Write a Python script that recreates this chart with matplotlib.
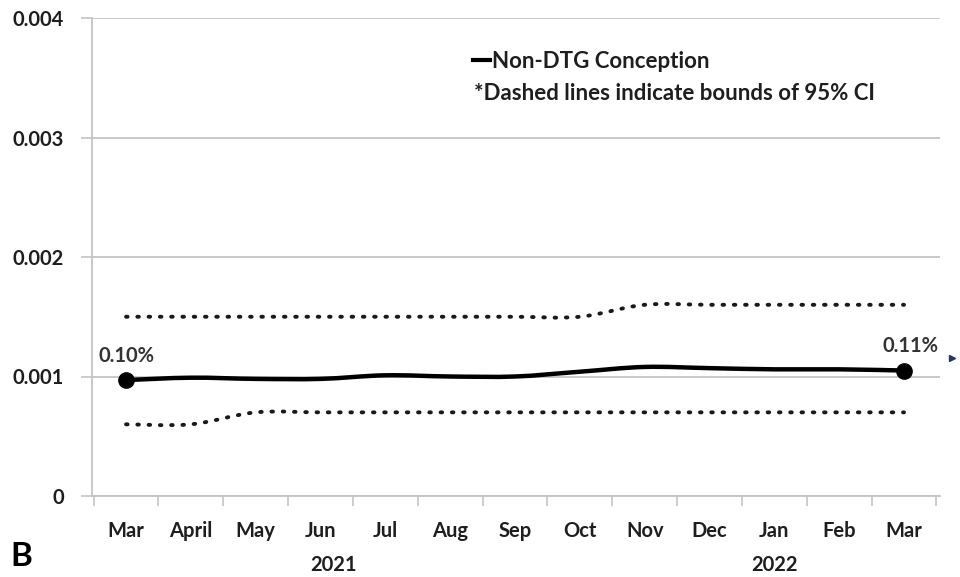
import numpy as np
import matplotlib
matplotlib.use("Agg")
import matplotlib.pyplot as plt
from matplotlib.path import Path
from matplotlib.patches import PathPatch
from matplotlib.lines import Line2D

months = ["Mar", "April", "May", "Jun", "Jul", "Aug", "Sep", "Oct", "Nov", "Dec", "Jan", "Feb", "Mar"]
rate = [0.00097, 0.00099, 0.00098, 0.00098, 0.00101, 0.00100, 0.00100, 0.00104, 0.00108, 0.00107, 0.00106, 0.00106, 0.00105]
upper = [0.0015, 0.0015, 0.0015, 0.0015, 0.0015, 0.0015, 0.0015, 0.0015, 0.0016, 0.0016, 0.0016, 0.0016, 0.0016]
lower = [0.0006, 0.0006, 0.0007, 0.0007, 0.0007, 0.0007, 0.0007, 0.0007, 0.0007, 0.0007, 0.0007, 0.0007, 0.0007]
years = ["2021", "2022"]
year_pos = [3.2, 10.0]
end_labels = ["0.10%", "0.11%"]
yticks = [0, 0.001, 0.002, 0.003, 0.004]
ytick_labels = ["0", "0.001", "0.002", "0.003", "0.004"]

FONT = "Lato"
plt.rcParams['font.family'] = [FONT, 'DejaVu Sans']
plt.rcParams['font.weight'] = 'bold'
TXT = '#1e1e1e'
FS = 14.5

fig = plt.figure(figsize=(9.6, 5.77), dpi=100)
ax = fig.add_axes([92/960, 81/577, (940-92)/960, (496-18)/577])

x = np.arange(len(months))


def smooth_path(xs, ys):
    pts = np.column_stack([xs, ys]).astype(float)
    verts = [pts[0]]
    codes = [Path.MOVETO]
    n = len(pts)
    for i in range(n - 1):
        p0 = pts[i - 1] if i > 0 else pts[i]
        p1 = pts[i]
        p2 = pts[i + 1]
        p3 = pts[i + 2] if i + 2 < n else pts[i + 1]
        c1 = p1 + (p2 - p0) / 6.0
        c2 = p2 - (p3 - p1) / 6.0
        verts += [c1, c2, p2]
        codes += [Path.CURVE4] * 3
    return Path(verts, codes)


for arr in (upper, lower):
    ax.add_patch(PathPatch(smooth_path(x, arr), fill=False, edgecolor='#1a1a1a',
                           lw=2.8, linestyle=(0, (0.4, 2.5)), capstyle='round', zorder=3))

ax.add_patch(PathPatch(smooth_path(x, rate), fill=False, edgecolor='black', lw=3.2, zorder=4))
ax.plot([x[0], x[-1]], [rate[0], rate[-1]], 'o', color='black', ms=11, zorder=5)

ax.text(x[0], rate[0] + 0.00012, end_labels[0], ha='center', va='bottom', fontsize=FS,
        fontweight='bold', color='#333333')
ax.text(x[-1] + 0.1, rate[-1] + 0.00012, end_labels[1], ha='center', va='bottom', fontsize=FS,
        fontweight='bold', color='#333333')

ax.set_xlim(-0.525, 12.555)
ax.set_ylim(0, 0.004)
ax.set_yticks(yticks)
ax.set_yticklabels(ytick_labels)
ax.yaxis.grid(True, color='#c4c4c4', lw=1.3)
ax.set_axisbelow(True)

ax.set_xticks(x)
ax.set_xticklabels(months)
ax.set_xticks(np.arange(-0.5, 12.6, 1.0), minor=True)
ax.tick_params(axis='x', which='major', length=0, pad=18, labelsize=FS, labelcolor=TXT)
ax.tick_params(axis='x', which='minor', length=7, width=1.2, color='#c4c4c4', direction='out')
ax.tick_params(axis='y', length=8, width=1.2, color='#c4c4c4', pad=12, labelsize=FS, labelcolor=TXT)
for lab in ax.get_xticklabels() + ax.get_yticklabels():
    lab.set_fontweight('bold')

for s in ['top', 'right']:
    ax.spines[s].set_visible(False)
ax.spines['left'].set_color('#c4c4c4')
ax.spines['bottom'].set_color('#c4c4c4')
ax.spines['left'].set_linewidth(1.3)
ax.spines['bottom'].set_linewidth(1.3)

for yr, p in zip(years, year_pos):
    ax.text(p, -0.00058, yr, ha='center', va='center', fontsize=FS, fontweight='bold',
            color=TXT, transform=ax.transData)

# legend
leg_handle = Line2D([0], [0], color='black', lw=3)
leg = ax.legend([leg_handle], ["Non-DTG Conception"], loc='upper left',
                bbox_to_anchor=(462/960, 1 - 40/577), bbox_transform=fig.transFigure,
                frameon=False, handlelength=0.75, handletextpad=0.1,
                prop={'family': FONT, 'weight': 'bold', 'size': FS + 1.5}, borderpad=0)
for t in leg.get_texts():
    t.set_color(TXT)
fig.text(474/960, 1 - 94/577, "*Dashed lines indicate bounds of 95% CI", ha='left', va='center',
         fontsize=FS + 1.5, fontweight='bold', color=TXT)

fig.text(10/960, 1 - 556/577, "B", ha='left', va='center', fontsize=24, fontweight='bold', color='black')
fig.add_artist(Line2D([952/960], [1 - 358/577], marker='>', ms=5, color='#1f3864',
                      transform=fig.transFigure))

fig.savefig("out.png", dpi=100)
